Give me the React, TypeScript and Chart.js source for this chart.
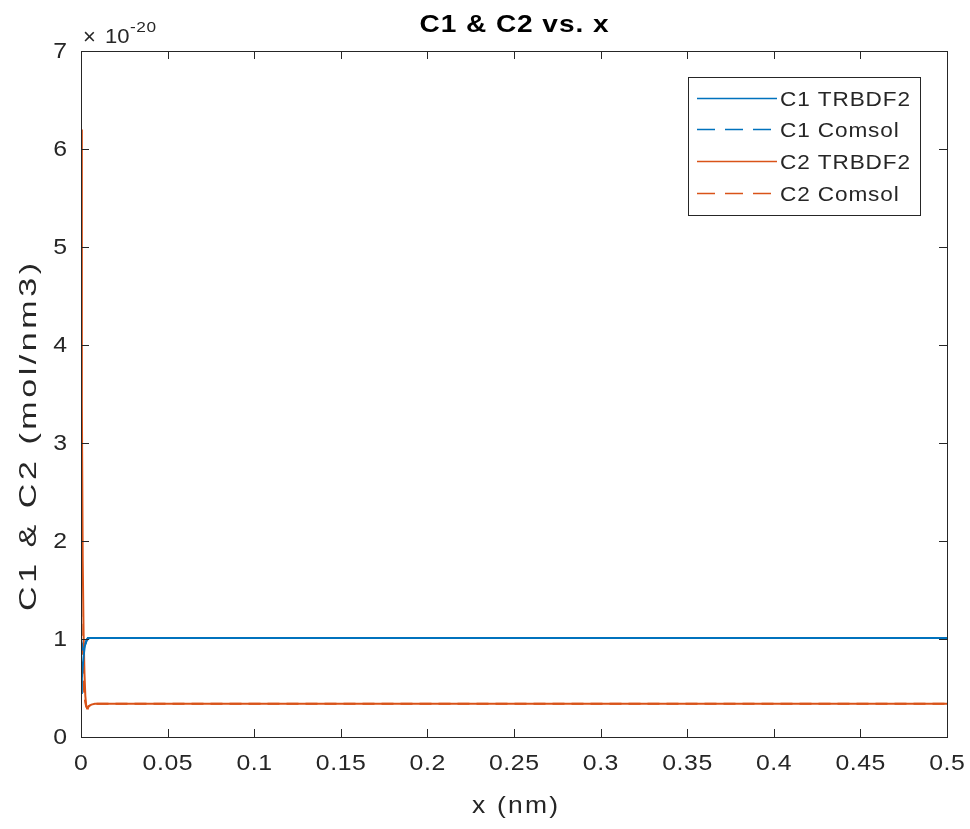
import React, { useEffect, useRef } from "react";
import { Chart, registerables } from "chart.js";

Chart.register(...registerables);

// x positions (nm)
const xValues = [0, 0.0005, 0.001, 0.0015, 0.002, 0.0025, 0.003, 0.0035, 0.004, 0.005, 0.006, 0.008, 0.01, 0.1, 0.2, 0.3, 0.4, 0.5];
// concentrations in units of 1e-20 mol/nm3
const c1Trbdf2 = [0.45, 0.6, 0.72, 0.82, 0.9, 0.95, 0.98, 1.0, 1.01, 1.01, 1.01, 1.01, 1.01, 1.01, 1.01, 1.01, 1.01, 1.01];
const c1Comsol = [1.0, 0.95, 0.9, 0.88, 0.9, 0.94, 0.97, 0.99, 1.0, 1.01, 1.01, 1.01, 1.01, 1.01, 1.01, 1.01, 1.01, 1.01];
const c2Trbdf2 = [6.2, 3.4, 1.8, 1.05, 0.65, 0.42, 0.32, 0.29, 0.3, 0.32, 0.33, 0.34, 0.34, 0.34, 0.34, 0.34, 0.34, 0.34];
const c2Comsol = [1.35, 1.0, 0.75, 0.55, 0.42, 0.35, 0.31, 0.3, 0.31, 0.32, 0.33, 0.34, 0.34, 0.34, 0.34, 0.34, 0.34, 0.34];

const seriesLabels = ["C1 TRBDF2", "C1 Comsol", "C2 TRBDF2", "C2 Comsol"];
const seriesColors = ["#0072BD", "#0072BD", "#D95319", "#D95319"];
const seriesDashed = [false, true, false, true];
const seriesValues = [c1Trbdf2, c1Comsol, c2Trbdf2, c2Comsol];

const xTickStep = 0.05;
const yTickStep = 1;
const xMin = 0, xMax = 0.5, yMin = 0, yMax = 7;

const titleText = "C1 & C2 vs. x";
const xLabel = "x (nm)";
const yLabel = "C1 & C2 (mol/nm3)";
const exponentText = "-20";

const FONT = "'Liberation Sans', Arial, Helvetica, sans-serif";
const AX = "#262626";

// draw text stretched along its direction by factor sx, with letter spacing ls
function drawFit(ctx: any, text: string, x: number, y: number, sx: number, ls: number, align: string) {
  ctx.save();
  ctx.letterSpacing = `${ls}px`;
  const w = ctx.measureText(text).width - ls;
  const total = w * sx;
  const startX = align === "center" ? x - total / 2 : align === "right" ? x - total : x;
  ctx.translate(startX, y);
  ctx.scale(sx, 1);
  ctx.textAlign = "left";
  ctx.fillText(text, 0, 0);
  ctx.restore();
}
function ratioFor(ctx: any, text: string, target: number, ls: number) {
  ctx.save();
  ctx.letterSpacing = `${ls}px`;
  const w = ctx.measureText(text).width - ls;
  ctx.restore();
  return target / w;
}

const decorPlugin = {
  id: "matlabDecor",
  afterDatasetsDraw(chart: any) {
    const { ctx, chartArea: a, scales } = chart;
    const xs = scales.x, ys = scales.y;
    ctx.save();
    // box
    ctx.strokeStyle = AX;
    ctx.lineWidth = 1;
    ctx.strokeRect(a.left + 0.5, a.top + 0.5, a.right - a.left, a.bottom - a.top);
    // inner ticks
    const tl = 8;
    ctx.beginPath();
    xs.ticks.forEach((t: any) => {
      const px = Math.round(xs.getPixelForValue(t.value)) + 0.5;
      ctx.moveTo(px, a.bottom); ctx.lineTo(px, a.bottom - tl);
      ctx.moveTo(px, a.top); ctx.lineTo(px, a.top + tl);
    });
    ys.ticks.forEach((t: any) => {
      const py = Math.round(ys.getPixelForValue(t.value)) + 0.5;
      ctx.moveTo(a.left, py); ctx.lineTo(a.left + tl, py);
      ctx.moveTo(a.right, py); ctx.lineTo(a.right - tl, py);
    });
    ctx.stroke();

    ctx.textBaseline = "middle";
    // tick labels
    ctx.fillStyle = AX;
    ctx.font = `22px ${FONT}`;
    const tsx = ratioFor(ctx, "0.05", 50, 0.5);
    xs.ticks.forEach((t: any) => {
      const px = xs.getPixelForValue(t.value);
      drawFit(ctx, t.label, px, a.bottom + 27, tsx, 0.5, "center");
    });
    ys.ticks.forEach((t: any) => {
      const py = ys.getPixelForValue(t.value);
      drawFit(ctx, t.label, a.left - 14, py + 1, tsx, 0.5, "right");
    });

    // title
    ctx.fillStyle = "#000";
    ctx.font = `bold 24px ${FONT}`;
    drawFit(ctx, titleText, (a.left + a.right) / 2, 25, ratioFor(ctx, titleText, 189, 0.8), 0.8, "center");

    // axis labels
    ctx.fillStyle = AX;
    ctx.font = `24px ${FONT}`;
    drawFit(ctx, xLabel, (a.left + a.right) / 2 + 1, 806, ratioFor(ctx, xLabel, 86, 2), 2, "center");
    ctx.save();
    ctx.translate(29, 437);
    ctx.rotate(-Math.PI / 2);
    drawFit(ctx, yLabel, 0, 0, ratioFor(ctx, yLabel, 348, 2.5), 2.5, "center");
    ctx.restore();

    // exponent
    ctx.textBaseline = "alphabetic";
    ctx.font = `22px ${FONT}`;
    ctx.fillText("\u00d7", a.left + 2, 44);
    ctx.font = `21px ${FONT}`;
    drawFit(ctx, "10", a.left + 24, 43, 1.05, 0, "left");
    ctx.font = `15px ${FONT}`;
    drawFit(ctx, exponentText, a.left + 49, 32, 1.15, 0.5, "left");

    // legend
    const bx = 688, by = 77, bw = 232, bh = 138;
    ctx.fillStyle = "#fff";
    ctx.fillRect(bx, by, bw, bh);
    ctx.strokeStyle = AX;
    ctx.lineWidth = 1;
    ctx.strokeRect(bx + 0.5, by + 0.5, bw, bh);
    const rowY = [100, 131, 163, 195];
    ctx.font = `21px ${FONT}`;
    const lsx = ratioFor(ctx, "C1 TRBDF2", 130, 0.8);
    chart.data.datasets.forEach((ds: any, i: number) => {
      const y = rowY[i] - 1.5;
      ctx.strokeStyle = ds.borderColor;
      ctx.lineWidth = 1.5;
      ctx.setLineDash(ds.borderDash && ds.borderDash.length ? [18, 10] : []);
      ctx.beginPath();
      ctx.moveTo(697, y); ctx.lineTo(777, y);
      ctx.stroke();
      ctx.setLineDash([]);
      ctx.fillStyle = AX;
      ctx.textBaseline = "middle";
      drawFit(ctx, ds.label, 780, rowY[i], lsx, 0.8, "left");
    });
    ctx.restore();
  },
};

export default function App() {
  const ref = useRef<HTMLCanvasElement>(null);
  useEffect(() => {
    if (!ref.current) return;
    const datasets = seriesValues.map((vals, i) => ({
      label: seriesLabels[i],
      data: xValues.map((x, j) => ({ x, y: vals[j] })),
      borderColor: seriesColors[i],
      backgroundColor: seriesColors[i],
      borderWidth: 2,
      borderDash: seriesDashed[i] ? [12, 7] : [],
      pointRadius: 0,
      tension: 0,
      fill: false,
    }));
    const chart = new Chart(ref.current, {
      type: "line",
      data: { datasets },
      plugins: [decorPlugin],
      options: {
        animation: false,
        responsive: false,
        devicePixelRatio: 1,
        layout: { padding: { top: 51, right: 23, left: 0, bottom: 0 } },
        plugins: { legend: { display: false }, title: { display: false }, tooltip: { enabled: false } },
        scales: {
          x: {
            type: "linear",
            min: xMin,
            max: xMax,
            grid: { display: false },
            border: { display: false },
            afterFit: (s: any) => { s.height = 92; },
            ticks: {
              display: false,
              stepSize: xTickStep,
              autoSkip: false,
              callback: (v: any) => String(Number(Number(v).toFixed(2))),
            },
          },
          y: {
            type: "linear",
            min: yMin,
            max: yMax,
            grid: { display: false },
            border: { display: false },
            afterFit: (s: any) => { s.width = 81; },
            ticks: {
              display: false,
              stepSize: yTickStep,
              callback: (v: any) => String(v),
            },
          },
        },
      } as any,
    });
    return () => chart.destroy();
  }, []);
  return (
    <div style={{ position: "absolute", left: 0, top: 0, width: 970, height: 829, background: "#fff" }}>
      <canvas ref={ref} width={970} height={829} />
    </div>
  );
}
